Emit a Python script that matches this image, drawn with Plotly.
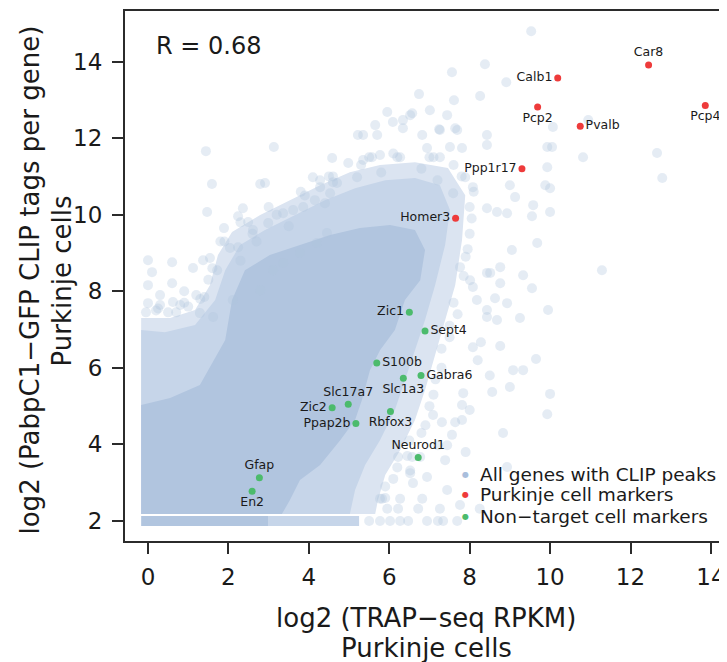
import plotly.graph_objects as go

# ---------------- background cloud (all genes with CLIP peaks) ----------------
# outlines of the densely over-plotted regions (data units, estimated)
outer_x = [-0.17, -0.17, 0.55, 1.17, 1.54, 1.74, 2.09, 2.79, 3.53, 4.28, 5.02, 5.77, 6.64, 7.46,
           7.89, 7.81, 7.64, 7.39, 7.14, 6.89, 6.64, 6.27, 5.90, 5.72, 5.65]
outer_y = [2.18, 7.30, 7.30, 7.51, 8.16, 8.95, 9.55, 9.99, 10.38, 10.77, 11.11, 11.30, 11.37, 11.22,
           10.51, 9.34, 8.16, 7.25, 6.33, 5.42, 4.64, 3.85, 3.20, 2.55, 2.18]
mid_x = [-0.17, -0.17, 0.42, 1.17, 1.67, 1.92, 2.29, 2.91, 3.66, 4.40, 5.15, 5.90, 6.64, 7.26,
         7.51, 7.39, 7.14, 6.89, 6.64, 6.39, 6.14, 5.77, 5.40, 5.15, 5.02]
mid_y = [2.18, 6.99, 6.93, 7.12, 7.77, 8.55, 9.21, 9.60, 9.99, 10.38, 10.69, 10.90, 10.96, 10.77,
         10.12, 9.21, 8.16, 7.25, 6.46, 5.68, 4.90, 4.11, 3.46, 2.81, 2.18]
core_x = [-0.17, -0.17, 0.55, 1.29, 1.92, 2.09, 2.41, 3.03, 3.78, 4.53, 5.27, 6.02, 6.64, 6.89,
          6.77, 6.39, 6.14, 5.77, 5.52, 5.32, 5.15, 4.78, 4.28, 3.78, 3.53, 3.33]
core_y = [2.18, 5.03, 5.21, 5.55, 6.73, 7.77, 8.55, 8.95, 9.21, 9.47, 9.65, 9.73, 9.60, 9.08,
          8.29, 7.77, 6.99, 6.46, 5.94, 5.16, 4.64, 4.11, 3.46, 3.07, 2.55, 2.18]
# the bottom row of genes (log2 = 2)
row0_core_x = [-0.17, 3.0, 3.0, -0.17]
row0_core_y = [1.87, 1.87, 2.13, 2.13]
row0_mid_x = [3.0, 5.25, 5.25, 3.0]
row0_mid_y = [1.87, 1.87, 2.13, 2.13]

# individual genes outside the dense cloud
genes_x = [1.44, 3.13, 1.59, 2.79, 2.91, 1.47, 2.36, 1.89, 2.24, 2.49, 2.61, 2.99, 3.36, 3.61, 3.86,
           4.15, 4.53, 4.60, 4.28, 4.58, 4.98, 5.22, 0.00, 0.10, 0.60, 1.12, 1.37, 1.54, 2.04, 2.24,
           1.72, 0.00, 0.00, 0.30, 0.62, 0.80, 0.60, 1.29, 1.62, 2.11, 2.79, 3.11, 3.36, 3.78, 4.20,
           4.45,
           9.53, 8.38, 7.56, 8.91, 8.26, 7.61, 6.74, 7.01, 6.52, 7.44, 7.69, 7.26, 5.95, 5.65, 5.35,
           6.09, 6.34, 6.82, 8.43, 9.93, 10.05, 10.82, 12.66, 12.79, 10.95, 10.07, 9.93, 9.88, 10.00,
           9.00, 9.13, 9.58, 10.00, 9.55, 8.68, 8.93, 9.68, 9.05, 11.29, 9.33, 9.55, 9.95, 9.25, 8.93,
           8.43, 8.63, 8.43, 8.76, 8.01, 7.76,
           6.57, 5.70, 6.34, 7.24, 7.64, 6.94, 7.26, 7.51, 7.81, 8.43, 5.35, 5.57, 5.77, 6.27, 7.89,
           8.08, 7.59, 8.43, 4.10, 4.28, 4.70, 5.20,
           8.68, 8.76, 9.65, 9.08, 9.33, 9.00, 10.00, 9.93, 8.56, 8.28, 8.08, 7.84, 7.81, 7.64, 8.51,
           8.76, 8.08, 8.43, 8.18, 8.83, 7.81, 7.31, 7.09, 6.77, 7.44, 6.94, 6.52, 6.22, 6.59, 6.27,
           5.77, 6.82, 7.26, 5.77, 6.27, 6.72, 7.34, 7.69, 7.76, 6.94,
           7.56, 7.21, 7.39, 6.52, 7.44, 7.21, 6.47, 6.22, 5.82, 6.57, 8.93, 5.50, 6.02,
           0.30, 0.90, 1.20, 1.50, 1.90, 2.60, 3.20, 3.90, 4.60, 5.50, 6.10, 7.00, 7.60, 8.00, 8.00,
           7.90, 7.70, 7.50, 7.30, 7.10, 6.90, 6.50, 6.20, 5.90, 5.95, 8.20, 8.50, 8.00, 7.90, 0.20,
           0.50, 0.90, 1.40, 2.30, 2.70, 3.50, 4.40, 5.80, 6.80, 7.20, 8.25,
           1.00, 1.30, 1.60, 1.80, 2.30, 3.00, 3.80, 4.50, 5.30, 6.20, 7.10, 7.80, 8.10, 8.05, 7.95,
           7.85, 7.60, 7.50, 7.30, 7.15, 7.00, 6.80, 6.45, 6.10, 5.90, -0.05, 0.25, 0.70]
genes_y = [11.66, 11.77, 10.80, 10.80, 10.83, 10.07, 10.17, 9.65, 9.96, 9.81, 9.60, 9.78, 10.04, 10.12, 10.20,
           10.38, 10.56, 10.85, 10.90, 11.48, 11.35, 12.08, 8.81, 8.50, 8.76, 8.61, 8.81, 8.87, 9.13, 9.15,
           8.55, 8.16, 7.69, 7.64, 7.72, 7.64, 8.21, 7.43, 7.33, 7.77, 8.03, 8.55, 8.74, 9.00, 9.26,
           9.52,
           14.79, 13.93, 13.72, 13.46, 13.10, 12.99, 13.15, 12.73, 12.60, 12.60, 12.21, 12.21, 12.68, 12.34, 12.08,
           12.42, 12.47, 12.08, 12.08, 11.77, 11.77, 11.50, 11.61, 10.96, 12.47, 12.29, 11.24, 10.77, 10.69,
           10.77, 10.46, 10.25, 10.07, 9.96, 10.07, 10.04, 9.26, 9.08, 8.55, 8.42, 8.08, 7.51, 7.30, 7.69,
           7.51, 7.82, 8.48, 8.63, 8.29, 8.63,
           12.65, 12.08, 12.26, 12.23, 12.26, 11.74, 11.50, 11.77, 11.74, 11.82, 11.43, 11.50, 11.56, 11.50, 10.98,
           10.72, 10.56, 10.17, 10.98, 10.72, 10.83, 10.98,
           7.25, 6.57, 6.23, 5.94, 5.94, 5.50, 5.32, 4.79, 5.37, 6.67, 6.54, 5.34, 5.03, 4.58, 8.48,
           8.21, 8.11, 7.33, 7.77, 4.30, 4.64, 4.58, 4.77, 3.67, 3.98, 3.15, 3.25, 3.67, 2.99, 2.58,
           2.58, 2.58, 2.32, 2.00, 2.00, 2.32, 2.00, 2.00, 2.42, 2.00,
           4.25, 3.98, 3.59, 3.32, 2.81, 2.00, 2.00, 2.32, 2.58, 3.67, 3.41, 2.00, 2.00,
           7.90, 8.00, 7.90, 8.30, 9.30, 9.50, 10.00, 10.50, 11.00, 11.50, 11.60, 11.50, 11.30, 10.20, 9.50,
           8.90, 7.40, 6.80, 6.00, 5.30, 4.50, 4.10, 3.40, 2.90, 2.32, 6.20, 5.80, 4.90, 3.80, 7.50,
           7.45, 7.70, 7.85, 8.80, 9.30, 9.70, 10.30, 11.10, 11.20, 10.90, 2.32,
           7.60, 7.80, 8.60, 9.30, 9.80, 10.20, 10.60, 11.00, 11.30, 11.50, 11.50, 11.00, 10.60, 9.90, 9.10,
           8.40, 7.70, 7.10, 6.50, 5.70, 5.00, 4.30, 3.70, 3.10, 2.60, 7.45, 7.55, 7.45]

# ---------------- highlighted marker genes ----------------
purkinje_names = ["Car8", "Calb1", "Pcp2", "Pvalb", "Pcp4", "Ppp1r17", "Homer3"]
purkinje_x = [12.45, 10.19, 9.69, 10.75, 13.86, 9.30, 7.65]
purkinje_y = [13.91, 13.57, 12.81, 12.31, 12.85, 11.20, 9.91]
purkinje_pos = ["top center", "middle left", "bottom center", "middle right",
                "bottom center", "middle left", "middle left"]

nontarget_names = ["Zic1", "Sept4", "S100b", "Slc1a3", "Gabra6", "Slc17a7", "Zic2",
                   "Ppap2b", "Rbfox3", "Neurod1", "Gfap", "En2"]
nontarget_x = [6.50, 6.89, 5.69, 6.35, 6.79, 4.98, 4.58, 5.17, 6.03, 6.72, 2.77, 2.59]
nontarget_y = [7.45, 6.96, 6.13, 5.73, 5.80, 5.05, 4.96, 4.55, 4.86, 3.66, 3.13, 2.78]
nontarget_pos = ["middle left", "middle right", "middle right", "bottom center", "middle right",
                 "top center", "middle left", "middle left", "bottom center", "top center",
                 "top center", "bottom center"]

legend_labels = ["All genes with CLIP peaks", "Purkinje cell markers", "Non\u2212target cell markers"]
r_label = "R = 0.68"
x_title_lines = ["log2 (TRAP\u2212seq RPKM)", "Purkinje cells"]
y_title_lines = ["log2 (PabpC1\u2212GFP CLIP tags per gene)", "Purkinje cells"]

BLUE_CORE = "#B1C5DF"
BLUE_MID = "#C6D5E9"
BLUE_OUT = "#DBE4F1"
BLUE_PT = "rgba(176,196,222,0.33)"
RED = "#EE3B3B"
GREEN = "#4CBB6C"
INK = "#1a1a1a"
FONT = "DejaVu Sans, Verdana, sans-serif"

fig = go.Figure()


def poly(xs, ys, color):
    fig.add_trace(go.Scatter(x=xs, y=ys, mode="lines", fill="toself", fillcolor=color,
                             line=dict(width=0, color=color), hoverinfo="skip", showlegend=False))


poly(outer_x, outer_y, BLUE_OUT)
poly(mid_x, mid_y, BLUE_MID)
poly(core_x, core_y, BLUE_CORE)
poly(row0_mid_x, row0_mid_y, BLUE_MID)
poly(row0_core_x, row0_core_y, BLUE_CORE)

fig.add_trace(go.Scatter(x=genes_x, y=genes_y, mode="markers",
                         marker=dict(size=10, color=BLUE_PT, line=dict(width=0)),
                         hoverinfo="skip", showlegend=False))

fig.add_trace(go.Scatter(x=purkinje_x, y=purkinje_y, mode="markers+text", text=purkinje_names,
                         textposition=purkinje_pos,
                         textfont=dict(size=12.5, color=INK, family=FONT),
                         marker=dict(size=7, color=RED, line=dict(width=0)), showlegend=False))
fig.add_trace(go.Scatter(x=nontarget_x, y=nontarget_y, mode="markers+text", text=nontarget_names,
                         textposition=nontarget_pos,
                         textfont=dict(size=12.5, color=INK, family=FONT),
                         marker=dict(size=7, color=GREEN, line=dict(width=0)), showlegend=False))

# legend (drawn as text rows)
leg_colors = ["#A9BEDC", RED, GREEN]
leg_y = [0.1264, 0.0868, 0.0453]
for lab, col, yy in zip(legend_labels, leg_colors, leg_y):
    fig.add_annotation(x=0.5664, y=yy, xref="paper", yref="paper", text="\u25CF", showarrow=False,
                       xanchor="center", yanchor="middle", font=dict(size=8, color=col, family="DejaVu Sans"))
    fig.add_annotation(x=0.5864, y=yy, xref="paper", yref="paper", text=lab, showarrow=False,
                       xanchor="left", yanchor="middle", font=dict(size=18.5, color=INK, family=FONT))

fig.add_annotation(x=0.048, y=0.934, xref="paper", yref="paper", text=r_label, showarrow=False,
                   xanchor="left", yanchor="middle", font=dict(size=24, color=INK, family=FONT))

# axis titles (two lines each)
for txt, yy in zip(x_title_lines, [-0.1453, -0.2019]):
    fig.add_annotation(x=0.5, y=yy, xref="paper", yref="paper", text=txt, showarrow=False,
                       xanchor="center", yanchor="middle", font=dict(size=26, color=INK, family=FONT))
for txt, xx in zip(y_title_lines, [-0.1578, -0.1047]):
    fig.add_annotation(x=xx, y=0.4915, xref="paper", yref="paper", text=txt, showarrow=False,
                       textangle=-90, xanchor="center", yanchor="middle",
                       font=dict(size=26, color=INK, family=FONT))

# the page body has an 8px default margin, so the figure is sized to the visible area
fig.update_layout(
    width=719, height=654,
    margin=dict(l=117, r=0, t=3, b=121),
    plot_bgcolor="white", paper_bgcolor="white",
    showlegend=False,
    font=dict(family=FONT, color=INK),
)
fig.update_xaxes(range=[-0.572, 14.40], tickvals=[0, 2, 4, 6, 8, 10, 12, 14],
                 showline=True, mirror=True, linecolor="#2b2b2b", linewidth=2,
                 ticks="outside", ticklen=11, tickwidth=1.5, tickcolor="#2b2b2b",
                 tickfont=dict(size=23, color=INK), ticklabelstandoff=3,
                 showgrid=False, zeroline=False, automargin=False)
fig.update_yaxes(range=[1.478, 15.32], tickvals=[2, 4, 6, 8, 10, 12, 14],
                 showline=True, mirror=False, linecolor="#2b2b2b", linewidth=2,
                 ticks="outside", ticklen=11, tickwidth=1.5, tickcolor="#2b2b2b",
                 tickfont=dict(size=23, color=INK), ticklabelstandoff=5,
                 showgrid=False, zeroline=False, automargin=False)

fig.write_html("out.html")
